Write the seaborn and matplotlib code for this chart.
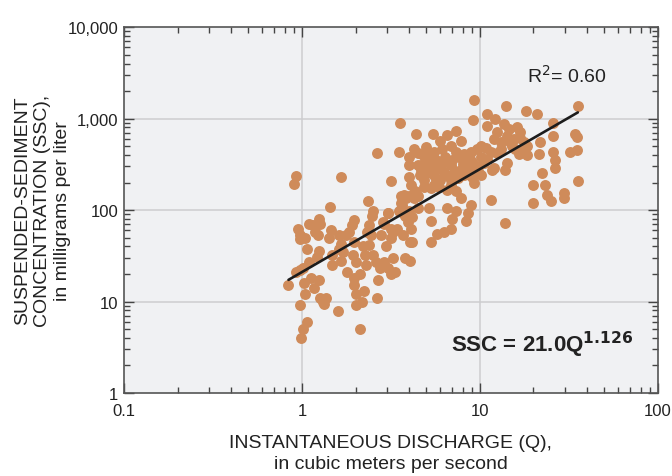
import numpy as np
import pandas as pd
import matplotlib
matplotlib.use("Agg")
import matplotlib.pyplot as plt
from matplotlib.ticker import LogLocator, FixedLocator, FuncFormatter, NullFormatter
import seaborn as sns

# Instantaneous discharge (m3/s) and suspended-sediment concentration (mg/L)
# Low-flow samples
discharge_low = [
    0.84, 0.93, 0.905, 0.95, 0.97, 0.98, 0.92, 0.98, 0.98, 0.99,
    1.01, 1.07, 1.04, 1.03, 1.01, 1.07, 1.04, 1.09, 1.16, 1.19,
    1.24, 1.26, 1.23, 1.10, 1.13, 1.17, 1.24, 1.21, 1.24, 1.26,
    1.31, 1.37, 1.33, 1.43, 1.41, 1.45, 1.47, 1.47, 1.60, 1.65,
    1.62, 1.66, 1.62, 1.66, 1.76, 1.79, 1.71, 1.83, 1.91, 1.96,
    1.96, 1.93, 2.00, 1.96, 1.96, 2.02, 2.00, 2.11, 2.13, 2.17,
    2.23, 2.19, 2.26, 2.35, 2.28, 2.32, 2.39, 2.45, 2.39, 2.49,
    2.52, 2.52, 2.59, 2.63, 2.63, 2.69, 2.74, 2.78, 2.86, 2.89,
    2.97, 3.06, 3.06, 3.15, 3.18, 3.23, 3.23, 3.32, 3.41, 3.81,
    4.03, 3.61, 3.61, 3.71, 3.81, 3.71, 4.03, 4.10, 3.92,
]
concentration_low = [
    15, 234, 191, 62, 48, 53, 21, 22, 9.2, 4.0,
    5.0, 5.9, 12, 16, 23, 38, 49, 71, 68, 57,
    80, 71, 53, 27, 18, 14, 17, 31, 36, 11,
    10, 11, 9.3, 107, 49, 60, 32, 25, 7.9, 229,
    53, 43, 38, 28, 53, 21, 35, 57, 68, 77,
    45, 32, 27, 18, 15, 12, 9.2, 5.0, 20, 10,
    13, 40, 32, 126, 25, 57, 68, 53, 41, 87,
    98, 32, 27, 418, 11, 17, 23, 53, 74, 27,
    40, 94, 23, 20, 49, 57, 30, 21, 62, 30,
    28, 143, 121, 94, 87, 53, 45, 62, 74,
]
# Mid-range and high-flow samples
discharge_high = [
    3.57, 4.37, 5.42, 6.57, 7.31, 5.98, 7.80, 4.28, 3.53, 4.97,
    4.77, 5.19, 5.53, 6.16, 6.86, 7.31, 8.14, 8.87, 9.66, 10.1,
    10.1, 11.5, 11.0, 12.0, 13.9, 14.2, 4.00, 4.00, 4.46, 4.87,
    5.42, 5.90, 4.66, 5.30, 6.29, 6.86, 7.80, 8.50, 9.05, 4.00,
    4.10, 4.30, 4.00, 4.87, 5.53, 6.00, 6.86, 7.50, 8.14, 9.05,
    9.27, 10.1, 11.7, 3.17, 3.76, 3.85, 4.28, 4.46, 4.87, 5.30,
    5.90, 6.57, 7.31, 7.80, 6.86, 3.67, 3.53, 3.05, 4.00, 4.46,
    4.17, 5.19, 5.30, 6.57, 7.31, 7.00, 8.87, 8.60, 8.30, 6.86,
    6.29, 5.75, 5.30, 4.17, 3.17, 2.90, 11.5, 13.9, 11.0, 12.2,
    13.6, 14.5, 11.0, 12.5, 14.2, 16.2, 16.9, 15.5, 13.1, 15.2,
    17.6, 18.5, 21.8, 16.5, 18.4, 21.4, 25.9, 25.9, 25.9, 26.5,
    26.5, 22.2, 23.3, 23.8, 25.0, 20.0, 20.0, 18.1, 20.9, 14.0,
    9.10, 9.30, 4.50, 5.00, 5.70, 6.40, 7.00, 7.60, 8.00, 8.80,
    9.50, 10.5, 5.10, 6.20, 7.20, 4.60, 5.60, 6.50, 8.60, 9.80,
    12.5, 13.2, 14.8, 15.8, 16.8, 17.5, 12.0, 10.8, 29.5, 29.5,
    32.1, 34.0, 34.9, 34.9, 35.5, 35.5,
]
concentration_high = [
    891, 676, 676, 661, 736, 575, 575, 468, 430, 489,
    397, 381, 430, 468, 508, 430, 414, 430, 468, 508,
    381, 430, 366, 285, 274, 323, 381, 310, 310, 323,
    310, 285, 274, 252, 263, 310, 274, 297, 337, 232,
    188, 160, 141, 214, 188, 214, 214, 223, 242, 232,
    197, 242, 274, 208, 147, 136, 136, 141, 181, 174,
    181, 167, 160, 136, 188, 115, 98, 94, 98, 106,
    83, 106, 76, 106, 98, 79, 115, 94, 76, 62,
    57, 55, 45, 45, 62, 70, 130, 72, 1114, 987,
    870, 768, 835, 707, 652, 800, 707, 600, 555, 508,
    555, 508, 555, 414, 397, 414, 905, 652, 430, 350,
    285, 252, 188, 147, 125, 188, 120, 1210, 1114, 1390,
    965, 1600, 420, 420, 350, 380, 350, 380, 320, 360,
    300, 330, 270, 330, 270, 240, 230, 240, 260, 270,
    420, 460, 560, 470, 620, 450, 600, 480, 155, 137,
    436, 687, 632, 454, 1387, 207,
]

# Fitted power-law relation
coef = 21.0
exponent = 1.126
r_squared = 0.60

x_ticks = [0.1, 1, 10, 100]
x_tick_labels = ["0.1", "1", "10", "100"]
y_ticks = [1, 10, 100, 1000, 10000]
y_tick_labels = ["1", "10", "100", "1,000", "10,000"]

df = pd.DataFrame({"Q": discharge_low + discharge_high,
                   "SSC": concentration_low + concentration_high})

sns.set_theme(style="ticks")
plt.rcParams["font.family"] = ["Liberation Sans", "DejaVu Sans"]

fig = plt.figure(figsize=(6.72, 4.77), dpi=100)
ax = fig.add_axes([0.1845, 0.174, 0.7945, 0.767])
ax.set_facecolor("#f0f1f3")
fig.patch.set_facecolor("white")

ax.set_xscale("log")
ax.set_yscale("log")
ax.set_xlim(0.1, 100)
ax.set_ylim(1, 10000)

for v in x_ticks[1:-1]:
    ax.axvline(v, color="#cdcdcf", lw=1.1, zorder=0)
for v in y_ticks[1:-1]:
    ax.axhline(v, color="#cdcdcf", lw=1.1, zorder=0)

sns.scatterplot(data=df, x="Q", y="SSC", ax=ax, color="#cf8b5a",
                s=62, linewidth=0, alpha=1.0, zorder=2, legend=False)

q_fit = np.geomspace(df["Q"].min(), df["Q"].max(), 50)
sns.lineplot(x=q_fit, y=coef * q_fit ** exponent, ax=ax,
             color="#1c1c1c", lw=1.9, zorder=3)

ax.xaxis.set_major_locator(FixedLocator(x_ticks))
ax.yaxis.set_major_locator(FixedLocator(y_ticks))
ax.xaxis.set_minor_locator(LogLocator(base=10, subs=np.arange(2, 10)))
ax.yaxis.set_minor_locator(LogLocator(base=10, subs=np.arange(2, 10)))
ax.xaxis.set_major_formatter(FuncFormatter(lambda v, p: dict(zip(x_ticks, x_tick_labels)).get(v, "")))
ax.yaxis.set_major_formatter(FuncFormatter(lambda v, p: dict(zip(y_ticks, y_tick_labels)).get(v, "")))
ax.xaxis.set_minor_formatter(NullFormatter())
ax.yaxis.set_minor_formatter(NullFormatter())

ax.tick_params(which="both", direction="in", top=True, right=True,
               color="#444444", width=1.0)
ax.tick_params(which="major", length=7, labelsize=12, pad=4,
               labelcolor="#222222")
ax.tick_params(axis="x", which="major", pad=7)
ax.tick_params(which="minor", length=4)

for sp in ax.spines.values():
    sp.set_color("#555555")
    sp.set_linewidth(1.2)

ax.set_xlabel("INSTANTANEOUS DISCHARGE (Q),\nin cubic meters per second",
              fontsize=14, labelpad=12, linespacing=1.3, color="#222222")
ax.set_ylabel("SUSPENDED-SEDIMENT\nCONCENTRATION (SSC),\nin milligrams per liter",
              fontsize=14, linespacing=1.2, color="#222222")
ax.yaxis.set_label_coords(-0.1, 0.5)

ax.text(18.5, 3000, r"R$^{2}$= %.2f" % r_squared, fontsize=14, va="center",
        ha="left", color="#222222")
ax.text(6.9, 3.4, r"SSC = %.1fQ$^{\mathbf{%.3f}}$" % (coef, exponent),
        fontsize=16, fontweight="bold", va="center", ha="left", color="#222222")

fig.savefig("out.png", dpi=100)
